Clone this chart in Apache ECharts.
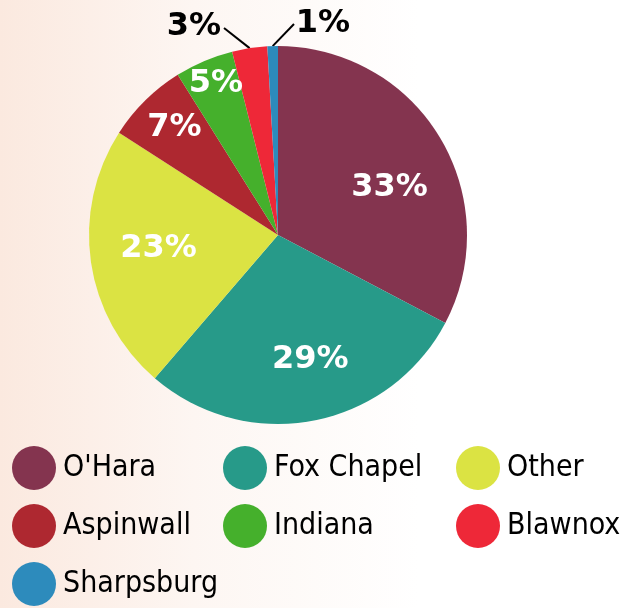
<!DOCTYPE html>
<html>
<head>
<meta charset="utf-8">
<script src="https://cdn.jsdelivr.net/npm/echarts@6/dist/echarts.min.js"></script>
<style>
  html, body { margin: 0; padding: 0; }
  #chart { width: 644px; height: 608px; }
</style>
</head>
<body>
<div id="chart"></div>
<script>
const categories = ["O'Hara", 'Fox Chapel', 'Other', 'Aspinwall', 'Indiana', 'Blawnox', 'Sharpsburg']
const shares = [32.7, 28.6, 22.8, 7.0, 5.0, 3.0, 0.9]
const colors = ['#84344f', '#279a89', '#dbe343', '#ae2830', '#45b02c', '#ee2838', '#2d8bbc']

// legend is laid out as a grid of columns
const legendColumns = [
  ["O'Hara", 'Aspinwall', 'Sharpsburg'],
  ['Fox Chapel', 'Indiana'],
  ['Other', 'Blawnox']
]
const legendLeft = [12, 223, 456]

// small slices get their label outside the pie
const outsideLabels = ['Blawnox', 'Sharpsburg']

// push inside labels a bit away from their default spot
const labelNudge = [[28, 3], [14, 29], [-23, 0], [-35, -38], [-24, -62]]

const chart = echarts.init(document.getElementById('chart'))

const pieData = categories.map((name, i) => {
  const item = { name: name, value: shares[i], itemStyle: { color: colors[i] } }
  if (outsideLabels.includes(name)) {
    item.label = { position: 'outside', color: '#000' }
    item.labelLine = { show: true }
  }
  return item
})

const option = {
  backgroundColor: new echarts.graphic.LinearGradient(0, 0, 1, 0, [
    { offset: 0, color: '#fbe9df' },
    { offset: 0.3, color: '#fdf6f2' },
    { offset: 0.65, color: '#ffffff' }
  ]),
  animation: false,
  legend: legendColumns.map((col, i) => ({
    data: col,
    orient: 'vertical',
    left: legendLeft[i],
    top: 446,
    height: 162,
    padding: 0,
    icon: 'circle',
    itemWidth: 44,
    itemHeight: 44,
    itemGap: 14,
    selectedMode: false,
    textStyle: {
      fontFamily: '"DejaVu Sans Condensed", "Liberation Sans Narrow", sans-serif',
      fontSize: 30,
      color: '#000',
      lineHeight: 36,
      padding: [6, 0, 0, 2]
    }
  })),
  series: [
    {
      type: 'pie',
      center: [278, 235],
      radius: [0, 189],
      startAngle: 90,
      clockwise: true,
      data: pieData,
      label: {
        show: true,
        position: 'inside',
        formatter: p => Math.round(p.percent) + '%',
        fontFamily: '"DejaVu Sans", sans-serif',
        fontWeight: 'bold',
        fontSize: 32,
        color: '#fff'
      },
      labelLine: {
        lineStyle: { color: '#000', width: 2 }
      },
      labelLayout: params => {
        const i = params.dataIndex
        if (i < labelNudge.length) {
          return { dx: labelNudge[i][0], dy: labelNudge[i][1] }
        }
        const start = params.labelLinePoints[0]
        if (categories[i] === 'Blawnox') {
          return {
            x: 194, y: 27, align: 'center', verticalAlign: 'middle',
            labelLinePoints: [start, start, [224, 28]]
          }
        }
        return {
          x: 323, y: 24, align: 'center', verticalAlign: 'middle',
          labelLinePoints: [start, start, [294, 24]]
        }
      }
    }
  ]
}

chart.setOption(option)
</script>
</body>
</html>
